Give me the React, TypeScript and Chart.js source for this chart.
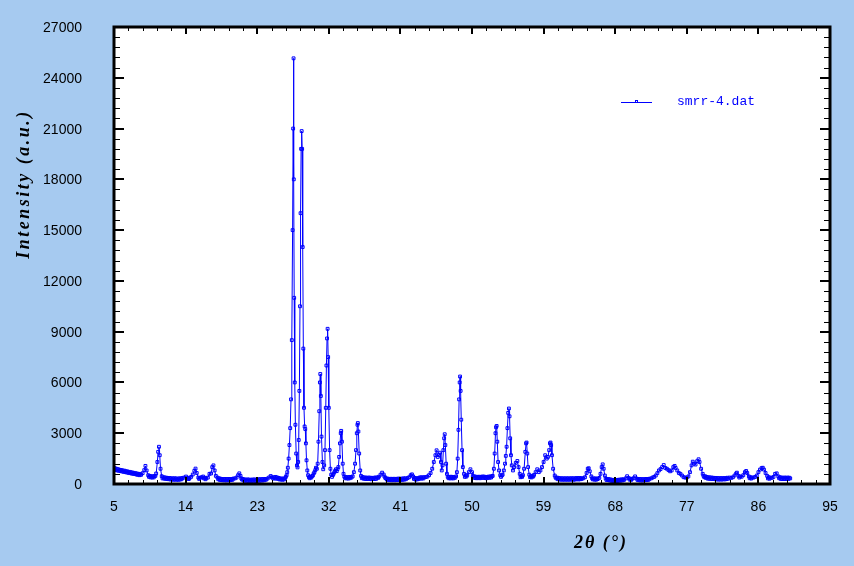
import React, { useEffect, useRef } from "react";
import { Chart, registerables } from "chart.js";

Chart.register(...registerables);

const xTickValues = [5, 14, 23, 32, 41, 50, 59, 68, 77, 86, 95];
const yTickValues = [0, 3000, 6000, 9000, 12000, 15000, 18000, 21000, 24000, 27000];
const seriesName = "smrr-4.dat";
const xTitle = "2θ (°)";
const yTitle = "Intensity (a.u.)";

// [2θ, intensity]
const lowAngle: [number, number][] = [
  [5.0, 860], [5.1, 940], [5.2, 820], [5.3, 900], [5.4, 800], [5.5, 880], [5.6, 780], [5.7, 840],
  [5.8, 760], [5.9, 830], [6.0, 740], [6.1, 800], [6.2, 720], [6.3, 790], [6.4, 700], [6.5, 760],
  [6.6, 680], [6.7, 740], [6.8, 660], [6.9, 720], [7.0, 640], [7.1, 700], [7.2, 620], [7.3, 680],
  [7.4, 600], [7.5, 660], [7.6, 590], [7.7, 640], [7.8, 560], [7.9, 620], [8.0, 540], [8.1, 600],
  [8.2, 520], [8.3, 590], [8.4, 540], [8.6, 640], [8.8, 820], [8.95, 1070], [9.1, 800], [9.3, 520],
  [9.4, 420], [9.5, 480], [9.6, 390], [9.7, 460], [9.8, 380], [9.9, 450], [10.0, 390], [10.1, 470],
  [10.2, 480], [10.3, 620], [10.45, 1300], [10.55, 1900], [10.65, 2200], [10.75, 1700],
  [10.85, 900], [11.0, 460], [11.1, 330], [11.2, 400], [11.3, 320], [11.4, 390], [11.5, 300],
  [11.6, 370], [11.7, 290], [11.8, 360], [11.9, 280], [12.0, 350], [12.1, 270], [12.2, 340],
  [12.3, 260], [12.4, 330], [12.5, 250], [12.6, 340], [12.7, 260], [12.8, 330], [12.9, 250],
  [13.0, 320], [13.1, 250], [13.2, 330], [13.3, 260], [13.4, 340], [13.5, 280], [13.6, 350],
  [13.8, 380], [14.05, 440], [14.2, 320], [14.3, 370], [14.4, 290], [14.5, 350], [14.7, 420],
  [14.9, 560], [15.1, 780], [15.25, 910], [15.4, 650], [15.6, 380], [15.7, 300], [15.8, 360],
  [16.0, 400], [16.2, 440], [16.3, 330], [16.4, 370], [16.5, 280], [16.6, 340], [16.8, 380],
  [17.0, 600], [17.2, 620], [17.35, 1000], [17.5, 1100], [17.65, 800], [17.8, 480], [18.0, 380],
  [18.1, 280], [18.2, 340], [18.3, 240], [18.4, 310], [18.5, 230], [18.6, 300], [18.7, 220],
  [18.8, 290], [18.9, 220], [19.0, 300], [19.1, 210], [19.2, 290], [19.3, 220], [19.4, 300],
  [19.5, 220], [19.6, 290], [19.7, 230], [19.8, 300], [19.9, 250], [20.0, 320], [20.2, 330],
  [20.4, 380], [20.6, 520], [20.75, 630], [20.9, 480], [21.0, 330], [21.1, 260], [21.2, 300],
  [21.3, 210], [21.4, 270], [21.5, 190], [21.6, 260], [21.7, 190], [21.8, 270], [21.9, 180],
  [22.0, 260], [22.1, 190], [22.2, 250], [22.3, 180], [22.4, 260], [22.5, 200], [22.6, 270],
  [22.7, 180], [22.8, 260], [22.9, 190], [23.0, 270], [23.1, 190], [23.2, 280], [23.3, 200],
  [23.4, 280], [23.5, 200], [23.6, 290], [23.7, 210], [23.8, 290], [23.9, 220], [24.0, 300],
  [24.1, 250], [24.3, 320], [24.5, 390], [24.7, 470], [24.9, 400], [25.0, 330], [25.1, 390],
  [25.2, 320], [25.3, 420], [25.4, 330], [25.5, 390], [25.6, 300], [25.7, 360], [25.8, 270],
  [25.9, 330], [26.0, 260], [26.1, 320], [26.2, 250], [26.3, 320], [26.4, 270], [26.5, 340],
];

const mainPeaks: [number, number][] = [
  [26.6, 420], [26.7, 520], [26.78, 700], [26.85, 960], [26.95, 1500], [27.05, 2300], [27.15, 3300],
  [27.25, 5000], [27.35, 8500], [27.45, 15000], [27.52, 21000], [27.57, 25150], [27.6, 18000],
  [27.65, 11000], [27.72, 6000], [27.8, 3500], [27.9, 1800], [28.0, 1100], [28.07, 980],
  [28.15, 1300], [28.22, 2600], [28.3, 5500], [28.38, 10500], [28.45, 16000], [28.52, 19800],
  [28.59, 20850], [28.65, 19800], [28.72, 14000], [28.8, 8000], [28.88, 4500], [28.96, 3400],
  [29.04, 3250], [29.12, 2400], [29.2, 1400], [29.3, 800], [29.4, 520], [29.5, 400], [29.6, 340],
  [29.7, 420], [29.8, 380], [29.9, 470], [30.0, 500], [30.1, 620], [30.2, 700], [30.3, 820],
  [30.38, 960], [30.5, 900], [30.6, 1200], [30.7, 2500], [30.8, 4300], [30.88, 6000], [30.93, 6500],
  [31.0, 5200], [31.08, 2800], [31.2, 1300], [31.3, 870], [31.42, 1100], [31.52, 2000], [31.62, 4500],
  [31.7, 7000], [31.78, 8600], [31.85, 9170], [31.92, 7500], [32.0, 4500], [32.1, 2000], [32.2, 900],
  [32.3, 550], [32.4, 420], [32.5, 520], [32.6, 600], [32.7, 700], [32.8, 780], [32.9, 870],
  [33.0, 760], [33.1, 880], [33.2, 1000], [33.3, 1600], [33.4, 2400], [33.5, 3000], [33.56, 3140],
  [33.65, 2500], [33.75, 1200], [33.85, 600], [33.95, 430], [34.05, 340], [34.15, 410], [34.25, 330],
  [34.35, 400], [34.45, 320], [34.55, 410], [34.65, 340], [34.75, 420], [34.85, 380], [35.0, 450],
  [35.15, 700], [35.3, 1200], [35.42, 2000], [35.52, 3000], [35.6, 3500], [35.65, 3600],
  [35.72, 3100], [35.82, 1800], [35.95, 800], [36.05, 480], [36.15, 340], [36.25, 410], [36.35, 320],
  [36.45, 390], [36.55, 300], [36.65, 380], [36.75, 290], [36.85, 370], [36.95, 300],
];

const midAngle: [number, number][] = [
  [37.05, 380], [37.15, 290], [37.25, 370], [37.35, 280], [37.45, 360], [37.55, 290], [37.65, 370],
  [37.75, 290], [37.85, 380], [37.95, 300], [38.05, 390], [38.2, 360], [38.3, 430], [38.5, 550],
  [38.7, 670], [38.9, 560], [39.0, 440], [39.1, 360], [39.2, 330], [39.3, 260], [39.4, 320],
  [39.5, 240], [39.6, 300], [39.7, 230], [39.8, 310], [39.9, 220], [40.0, 300], [40.1, 230],
  [40.2, 310], [40.3, 220], [40.4, 300], [40.5, 230], [40.6, 310], [40.7, 240], [40.8, 320],
  [40.9, 230], [41.0, 310], [41.1, 240], [41.2, 320], [41.3, 250], [41.4, 330], [41.5, 260],
  [41.6, 340], [41.7, 280], [41.9, 350], [42.1, 400], [42.3, 520], [42.45, 570], [42.6, 450],
  [42.7, 300], [42.8, 360], [42.9, 260], [43.0, 330], [43.1, 270], [43.2, 350], [43.3, 300],
  [43.4, 380], [43.5, 320], [43.6, 400], [43.7, 320], [43.8, 390], [43.9, 330], [44.0, 400],
  [44.2, 410], [44.4, 440], [44.6, 520], [44.8, 650], [45.0, 900], [45.2, 1300], [45.4, 1700],
  [45.55, 1990], [45.7, 1600], [45.85, 1700], [45.98, 1850], [46.1, 1300], [46.2, 800], [46.3, 1100],
  [46.4, 2000], [46.5, 2700], [46.57, 2940], [46.65, 2300], [46.75, 1200], [46.85, 600], [46.95, 420],
  [47.05, 340], [47.15, 420], [47.25, 330], [47.35, 430], [47.45, 340], [47.55, 420], [47.65, 330],
  [47.75, 410], [47.85, 360], [48.0, 450], [48.1, 700], [48.2, 1500], [48.3, 3200], [48.38, 5000],
  [48.45, 6000], [48.5, 6350], [48.57, 5500], [48.65, 3800], [48.75, 2000], [48.85, 1000],
  [49.0, 600], [49.1, 420], [49.2, 500], [49.3, 440], [49.4, 520], [49.6, 700], [49.8, 870],
  [50.0, 700], [50.1, 480], [50.2, 380], [50.3, 450], [50.4, 350], [50.5, 430], [50.6, 340],
  [50.7, 420], [50.8, 350], [50.9, 430], [51.0, 340], [51.1, 420], [51.2, 360], [51.3, 440],
  [51.4, 370], [51.5, 440], [51.6, 350], [51.7, 420], [51.8, 340], [51.9, 420], [52.0, 360],
  [52.1, 440], [52.2, 370], [52.3, 440], [52.4, 380], [52.5, 460], [52.6, 480], [52.75, 900],
  [52.85, 1800], [52.95, 3000], [53.02, 3350], [53.1, 3430], [53.18, 2500], [53.28, 1300],
  [53.4, 800], [53.55, 520], [53.65, 420], [53.75, 500], [53.85, 550], [54.0, 800], [54.15, 1200],
  [54.25, 1660], [54.35, 2200], [54.45, 3300], [54.55, 4200], [54.64, 4460], [54.72, 4000],
  [54.8, 2700], [54.9, 1700], [55.0, 1100], [55.15, 800], [55.3, 1000], [55.5, 1250], [55.7, 1360],
  [55.85, 1000], [56.0, 600], [56.1, 400], [56.2, 470], [56.3, 420], [56.4, 520], [56.55, 900],
  [56.7, 1900], [56.8, 2400], [56.86, 2450], [56.95, 1800], [57.05, 1000], [57.2, 550], [57.3, 400],
  [57.4, 460], [57.5, 390], [57.6, 470], [57.7, 440], [57.8, 540], [58.0, 700], [58.2, 870],
  [58.4, 700], [58.6, 800], [58.8, 1000], [59.0, 1300], [59.2, 1700], [59.4, 1500], [59.55, 1600],
  [59.7, 2000], [59.8, 2400], [59.87, 2450], [59.95, 2300], [60.05, 1700], [60.2, 900], [60.4, 500],
  [60.5, 390], [60.6, 330],
];

const highAngle: [number, number][] = [
  [60.7, 380], [60.8, 280], [60.9, 350], [61.0, 260], [61.1, 340], [61.2, 260], [61.3, 340],
  [61.4, 250], [61.5, 330], [61.6, 260], [61.7, 340], [61.8, 250], [61.9, 330], [62.0, 260],
  [62.1, 340], [62.2, 250], [62.3, 330], [62.4, 260], [62.5, 340], [62.6, 260], [62.7, 340],
  [62.8, 250], [62.9, 330], [63.0, 270], [63.1, 350], [63.2, 280], [63.3, 350], [63.4, 270],
  [63.5, 350], [63.6, 280], [63.7, 350], [63.8, 300], [64.0, 340], [64.2, 400], [64.4, 650],
  [64.55, 900], [64.67, 930], [64.8, 750], [65.0, 450], [65.1, 330], [65.2, 270], [65.3, 330],
  [65.4, 260], [65.5, 330], [65.6, 250], [65.7, 320], [65.8, 290], [66.0, 360], [66.15, 600],
  [66.3, 1000], [66.43, 1160], [66.55, 900], [66.7, 500], [66.8, 330], [66.9, 240], [67.0, 300],
  [67.1, 230], [67.2, 290], [67.3, 210], [67.4, 270], [67.5, 190], [67.6, 250], [67.7, 180],
  [67.8, 240], [67.9, 160], [68.0, 230], [68.1, 160], [68.2, 240], [68.3, 180], [68.4, 250],
  [68.5, 190], [68.6, 260], [68.7, 200], [68.8, 270], [68.9, 210], [69.0, 280], [69.1, 240],
  [69.3, 330], [69.5, 460], [69.7, 350], [69.8, 260], [69.9, 310], [70.0, 240], [70.1, 300],
  [70.3, 340], [70.5, 450], [70.7, 320], [70.8, 240], [70.9, 300], [71.0, 220], [71.1, 290],
  [71.2, 210], [71.3, 290], [71.4, 210], [71.5, 280], [71.6, 210], [71.7, 290], [71.8, 230],
  [71.9, 300], [72.0, 230], [72.1, 300], [72.2, 250], [72.3, 310], [72.5, 330], [72.7, 380],
  [72.9, 420], [73.1, 500], [73.3, 640], [73.5, 800], [73.7, 880], [73.9, 1000], [74.1, 1120],
  [74.3, 950], [74.5, 900], [74.7, 820], [74.9, 750], [75.1, 800], [75.3, 1000], [75.47, 1070],
  [75.6, 950], [75.8, 800], [76.0, 650], [76.2, 600], [76.4, 500], [76.6, 400], [76.8, 380],
  [77.0, 380], [77.2, 450], [77.4, 700], [77.6, 1100], [77.75, 1320], [77.9, 1200], [78.1, 1150],
  [78.3, 1350], [78.48, 1460], [78.6, 1300], [78.8, 900], [79.0, 600], [79.1, 480], [79.2, 400],
  [79.3, 460], [79.4, 360], [79.5, 420], [79.6, 320], [79.7, 400], [79.8, 310], [79.9, 390],
  [80.0, 300], [80.1, 380], [80.2, 290], [80.3, 370], [80.4, 290], [80.5, 360], [80.6, 280],
  [80.7, 360], [80.8, 270], [80.9, 350], [81.0, 260], [81.1, 340], [81.2, 270], [81.3, 350],
  [81.4, 260], [81.5, 340], [81.6, 280], [81.7, 350], [81.8, 270], [81.9, 350], [82.0, 290],
  [82.1, 370], [82.2, 310], [82.4, 380], [82.6, 360], [82.8, 400], [83.0, 500], [83.2, 620],
  [83.3, 670], [83.5, 480], [83.6, 380], [83.7, 440], [83.9, 430], [84.1, 520], [84.3, 700],
  [84.46, 770], [84.6, 650], [84.8, 450], [84.9, 340], [85.0, 400], [85.1, 320], [85.2, 380],
  [85.4, 380], [85.6, 420], [85.8, 500], [86.0, 700], [86.2, 850], [86.4, 940], [86.55, 960],
  [86.7, 850], [86.9, 650], [87.1, 480], [87.2, 330], [87.3, 400], [87.4, 310], [87.5, 380],
  [87.7, 360], [87.9, 420], [88.1, 600], [88.3, 630], [88.5, 450], [88.6, 340], [88.7, 400],
  [88.8, 300], [88.9, 380], [89.0, 290], [89.1, 370], [89.2, 290], [89.3, 380], [89.4, 290],
  [89.5, 370], [89.6, 300], [89.7, 380], [89.8, 300], [89.9, 370], [90.0, 330],
];

const BLUE = "#0000ff";
const TICK_FONT = "14px 'Liberation Sans', Arial, sans-serif";

const framePlugin = {
  id: "frame",
  beforeDraw(chart: any) {
    const { ctx, chartArea: a } = chart;
    ctx.save();
    ctx.fillStyle = "#ffffff";
    ctx.fillRect(a.left, a.top, a.right - a.left, a.bottom - a.top);
    ctx.restore();
  },
  afterDatasetsDraw(chart: any) {
    const { ctx, chartArea: a, scales } = chart;
    const xs = scales.x;
    const ys = scales.y;
    ctx.save();
    ctx.strokeStyle = "#000";
    const seg = (x1: number, y1: number, x2: number, y2: number, w: number) => {
      ctx.lineWidth = w;
      ctx.beginPath();
      ctx.moveTo(x1, y1);
      ctx.lineTo(x2, y2);
      ctx.stroke();
    };
    for (let i = 0; i < xTickValues.length; i++) {
      const v = xTickValues[i];
      const px = Math.round(xs.getPixelForValue(v));
      seg(px, a.bottom, px, a.bottom - 7, 2);
      seg(px, a.top, px, a.top + 7, 2);
      if (i < xTickValues.length - 1) {
        const step = (xTickValues[i + 1] - v) / 5;
        for (let k = 1; k < 5; k++) {
          const mx = Math.round(xs.getPixelForValue(v + step * k)) + 0.5;
          seg(mx, a.bottom, mx, a.bottom - 4, 1);
          seg(mx, a.top, mx, a.top + 4, 1);
        }
      }
    }
    ctx.fillStyle = "#000";
    ctx.font = TICK_FONT;
    ctx.textAlign = "right";
    ctx.textBaseline = "middle";
    for (let i = 0; i < yTickValues.length; i++) {
      const v = yTickValues[i];
      const py = Math.round(ys.getPixelForValue(v));
      seg(a.left, py, a.left + 10, py, 2);
      seg(a.right, py, a.right - 10, py, 2);
      ctx.fillText(String(v), a.left - 32, py + 1);
      if (i < yTickValues.length - 1) {
        const step = (yTickValues[i + 1] - v) / 5;
        for (let k = 1; k < 5; k++) {
          const my = Math.round(ys.getPixelForValue(v + step * k)) + 0.5;
          seg(a.left, my, a.left + 6, my, 1);
          seg(a.right, my, a.right - 6, my, 1);
        }
      }
    }
    ctx.lineWidth = 3;
    ctx.strokeRect(a.left, a.top, a.right - a.left, a.bottom - a.top);

    // legend
    const ly = a.top + 75;
    const lx = a.left + 507;
    ctx.strokeStyle = BLUE;
    seg(lx, ly + 0.5, lx + 31, ly + 0.5, 1);
    ctx.lineWidth = 1;
    ctx.strokeRect(lx + 14.5, ly - 1.5, 2, 2);
    ctx.fillStyle = BLUE;
    ctx.font = "13px 'Liberation Mono', 'DejaVu Sans Mono', monospace";
    ctx.textBaseline = "middle";
    ctx.textAlign = "left";
    ctx.fillText(seriesName, lx + 56, ly);
    ctx.restore();
  },
  afterDraw(chart: any) {
    const { ctx, chartArea: a } = chart;
    ctx.save();
    ctx.fillStyle = "#000";
    ctx.font = "bold italic 18px 'Liberation Serif', 'DejaVu Serif', serif";
    ctx.textAlign = "center";
    ctx.textBaseline = "middle";
    try {
      (ctx as any).letterSpacing = "2px";
    } catch (e) {}
    ctx.fillText(xTitle, a.left + 487, a.bottom + 59);
    ctx.translate(a.left - 90, a.top + 157);
    ctx.rotate(-Math.PI / 2);
    try {
      (ctx as any).letterSpacing = "2.5px";
    } catch (e) {}
    ctx.fillText(yTitle, 0, 0);
    ctx.restore();
  },
};

export default function App() {
  const canvasRef = useRef<HTMLCanvasElement | null>(null);

  useEffect(() => {
    document.body.style.margin = "0";
    const canvas = canvasRef.current;
    if (!canvas) return;
    const points = [...lowAngle, ...mainPeaks, ...midAngle, ...highAngle].map(([x, y]) => ({ x, y }));
    const tickFont = { family: "'Liberation Sans', Arial, sans-serif", size: 14 };
    const chart = new Chart(canvas, {
      type: "line",
      data: {
        datasets: [
          {
            label: seriesName,
            data: points,
            borderColor: BLUE,
            borderWidth: 1,
            pointStyle: "rect",
            pointRadius: 2,
            pointBorderWidth: 1,
            pointBorderColor: BLUE,
            pointBackgroundColor: "rgba(255,255,255,0)",
            tension: 0,
            fill: false,
          },
        ],
      },
      options: {
        responsive: false,
        animation: false,
        devicePixelRatio: 1,
        layout: { padding: { left: 0, top: 27, right: 24, bottom: 0 } },
        plugins: { legend: { display: false }, tooltip: { enabled: false }, title: { display: false } },
        scales: {
          x: {
            type: "linear",
            min: 5,
            max: 95,
            grid: { display: false, drawTicks: false },
            border: { display: false },
            afterBuildTicks: (scale: any) => {
              scale.ticks = xTickValues.map((v) => ({ value: v }));
            },
            afterFit: (scale: any) => {
              scale.height = 82;
            },
            ticks: {
              autoSkip: false,
              maxRotation: 0,
              padding: 15,
              color: "#000",
              font: tickFont,
              callback: (v: any) => String(v),
            },
          },
          y: {
            type: "linear",
            min: 0,
            max: 27000,
            grid: { display: false, drawTicks: false },
            border: { display: false },
            afterBuildTicks: (scale: any) => {
              scale.ticks = yTickValues.map((v) => ({ value: v }));
            },
            afterFit: (scale: any) => {
              scale.width = 114;
            },
            ticks: { display: false },
          },
        },
      },
      plugins: [framePlugin],
    });
    return () => chart.destroy();
  }, []);

  return (
    <div
      style={{
        position: "fixed",
        left: 0,
        top: 0,
        width: 854,
        height: 566,
        background: "#a6caf0",
      }}
    >
      <canvas ref={canvasRef} width={854} height={566} style={{ display: "block" }} />
    </div>
  );
}
